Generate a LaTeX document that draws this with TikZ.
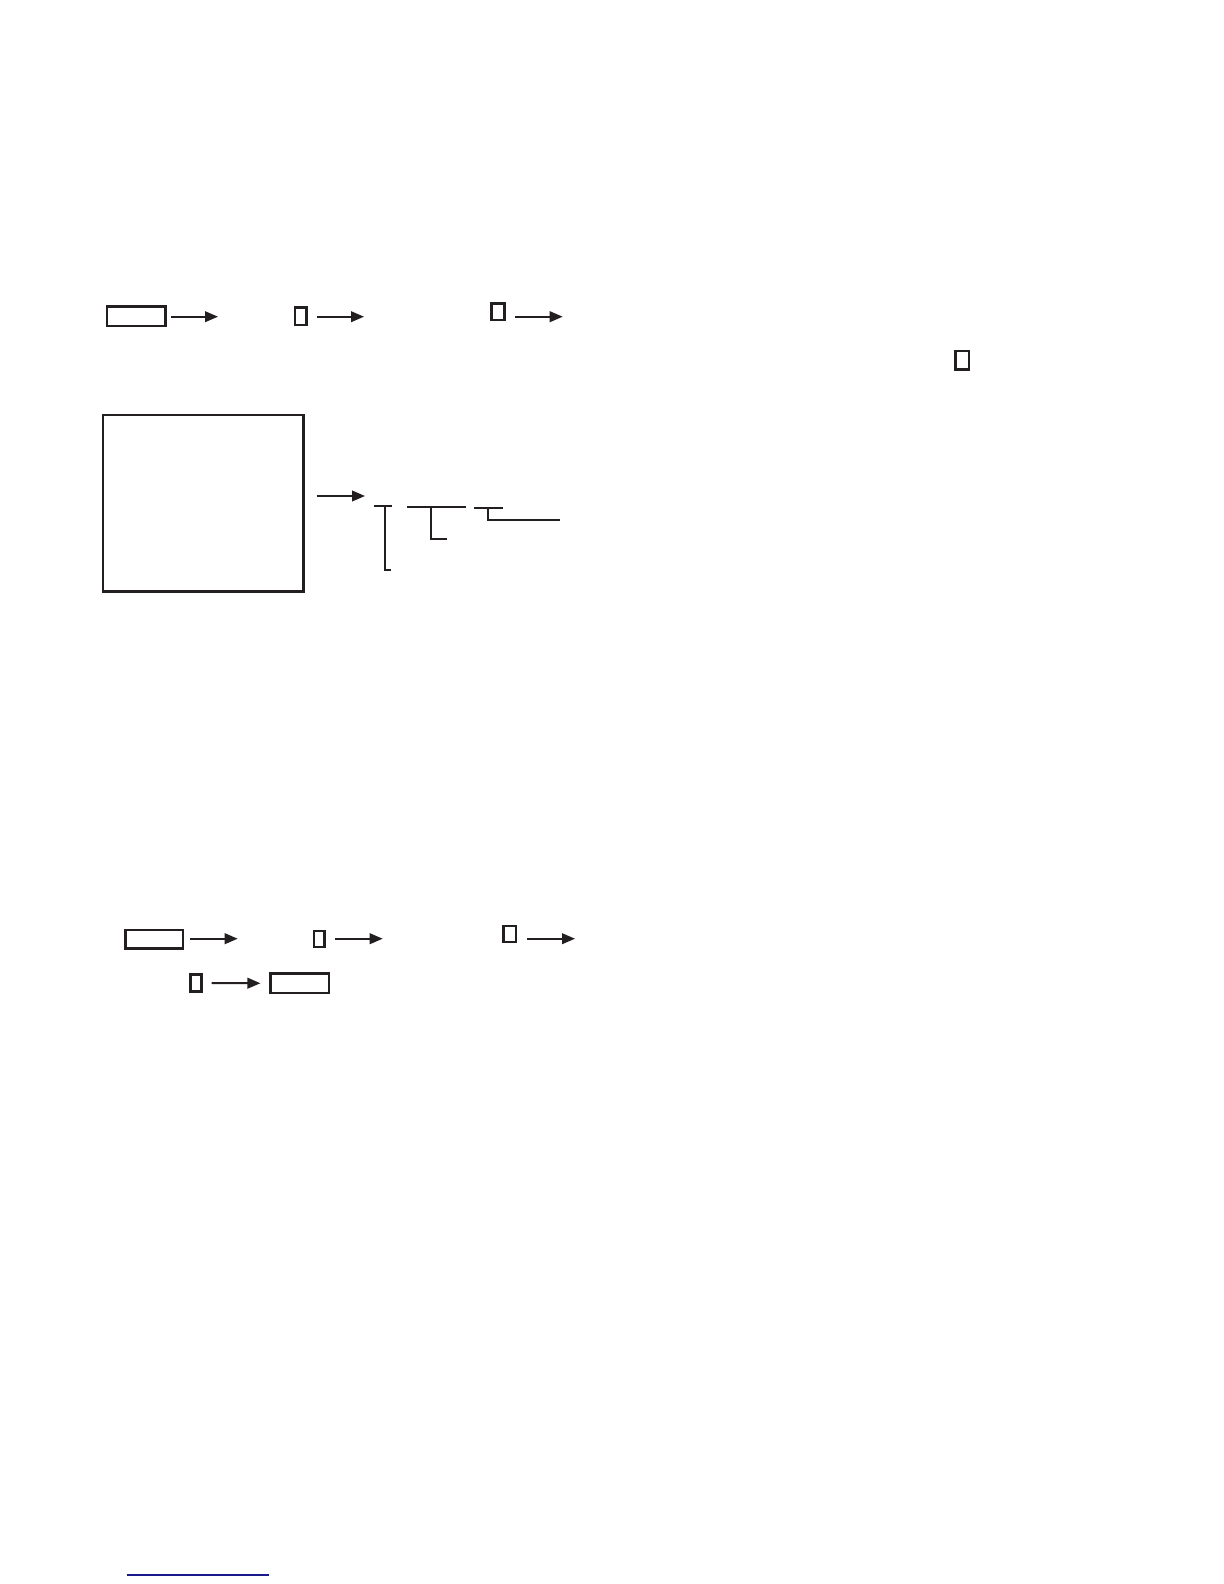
\documentclass[tikz,border=0pt]{standalone}
\usetikzlibrary{arrows.meta}
\definecolor{ink}{HTML}{231F20}
\definecolor{rule}{HTML}{1A1A8C}
\tikzset{
  box/.style={draw=ink, line width=1.2pt, rectangle, inner sep=0pt},
  conn/.style={draw=ink, line width=1pt, -{Triangle[length=6.5pt,width=5.3pt]}},
  brk/.style={draw=ink, line width=1.1pt},
}
\begin{document}
\begin{tikzpicture}[x=0.5pt,y=-0.5pt]
\path[use as bounding box, fill=white] (0,0) rectangle (1224,1584);

% ---- row 1
\node[box, minimum width=29.3pt, minimum height=9.65pt] (r1) at (136,316.3) {};
\node[box, minimum width=5.8pt, minimum height=8.85pt] (b2) at (300.5,316.2) {};
\node[box, minimum width=6.5pt, minimum height=8.15pt] (b3) at (497.8,311.8) {};
\node[box, minimum width=6.85pt, minimum height=9.15pt] (b4) at (962.2,360.2) {};

\coordinate (a1s) at (171,316.7);   \coordinate (a1e) at (218,316.7);
\coordinate (a2s) at (317.3,316.7); \coordinate (a2e) at (364,316.7);
\coordinate (a3s) at (515.3,316.7); \coordinate (a3e) at (562.7,316.7);
\draw[conn] (a1s) -- (a1e);
\draw[conn] (a2s) -- (a2e);
\draw[conn] (a3s) -- (a3e);

% ---- big box and brackets
\node[box, minimum width=100.35pt, minimum height=88.35pt] (big) at (203.3,503.3) {};
\coordinate (a4s) at (316.7,496); \coordinate (a4e) at (365,496);
\draw[conn] (a4s) -- (a4e);

\coordinate (k1a) at (374,505.7);  \coordinate (k1b) at (391.7,505.7);
\coordinate (k1t) at (385,505.7);  \coordinate (k1d) at (385,570); \coordinate (k1f) at (391,570);
\draw[brk] (k1a) -- (k1b);
\draw[brk] (k1t) -- (k1d) -- (k1f);

\coordinate (k2a) at (407.3,506.7); \coordinate (k2b) at (465.7,506.7);
\coordinate (k2t) at (431,506.7);   \coordinate (k2d) at (431,539); \coordinate (k2f) at (446.7,539);
\draw[brk] (k2a) -- (k2b);
\draw[brk] (k2t) -- (k2d) -- (k2f);

\coordinate (k3a) at (474,508);   \coordinate (k3b) at (502.7,508);
\coordinate (k3t) at (488.3,508); \coordinate (k3d) at (488.3,520); \coordinate (k3f) at (560,520);
\draw[brk] (k3a) -- (k3b);
\draw[brk] (k3t) -- (k3d) -- (k3f);

% ---- row 2
\node[box, minimum width=28.65pt, minimum height=9.35pt] (r5) at (154.3,939.3) {};
\node[box, minimum width=5.15pt, minimum height=8pt] (b6) at (319.2,939) {};
\node[box, minimum width=6.15pt, minimum height=8pt] (b7) at (509.8,934) {};
\coordinate (a5s) at (190.3,938.7); \coordinate (a5e) at (237.7,938.7);
\coordinate (a6s) at (335.3,938.7); \coordinate (a6e) at (382.7,938.7);
\coordinate (a7s) at (527,938.7);   \coordinate (a7e) at (575,938.7);
\draw[conn] (a5s) -- (a5e);
\draw[conn] (a6s) -- (a6e);
\draw[conn] (a7s) -- (a7e);

% ---- row 3
\node[box, minimum width=5.5pt, minimum height=8.5pt] (b8) at (195.8,982.8) {};
\node[box, minimum width=29.15pt, minimum height=9.65pt] (r9) at (299.8,983.3) {};
\coordinate (a8s) at (211.7,983);
\draw[conn, shorten >=4.5pt] (a8s) -- (r9.west);

% ---- footnote rule
\coordinate (fl) at (126.7,1575); \coordinate (fr) at (269,1575);
\draw[rule, line width=0.6pt] (fl) -- (fr);
\end{tikzpicture}
\end{document}
